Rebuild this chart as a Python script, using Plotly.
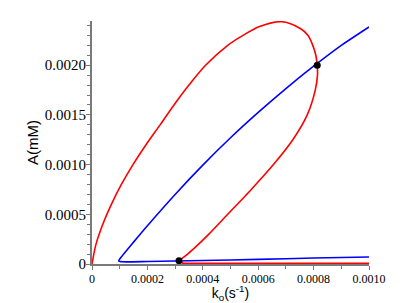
import plotly.graph_objects as go

# Red curve: loop from origin down to the lower marked point
red_x = [0, 0.0000145, 0.000039, 0.000070, 0.000106, 0.000148, 0.000195, 0.000246,
         0.000296, 0.000350, 0.000410, 0.000490, 0.000545, 0.000605, 0.000685,
         0.000752, 0.00078, 0.000797, 0.000808, 0.000813, 0.000814, 0.000806, 0.000777,
         0.000725, 0.000655, 0.000575, 0.00049, 0.000422, 0.000385, 0.000345, 0.000314]
red_y = [0, 0.0002, 0.0004, 0.0006, 0.0008, 0.0010, 0.0012, 0.0014,
         0.0016, 0.0018, 0.0020, 0.0022, 0.0023, 0.00239, 0.002438,
         0.00237, 0.0023, 0.0022, 0.0021, 0.002, 0.0019, 0.00175, 0.0015,
         0.00125, 0.0010, 0.00075, 0.0005, 0.0003, 0.0002, 0.0001, 0.000033]
# Red lower branch along the bottom
red_low_x = [0.000314, 0.00033, 0.00065, 0.001]
red_low_y = [0.000033, 0.000005, 0.000005, 0.000005]

# Blue curve: lower branch (right to left), turning point, upper branch
blue_x = [0.001, 0.0008, 0.0006, 0.0004, 0.0002, 0.00011, 0.0000965, 0.0001, 0.00015, 0.0002,
          0.0003, 0.0004, 0.0005, 0.0006, 0.0007, 0.0008, 0.0009, 0.001]
blue_y = [0.00007, 0.00006, 0.000047, 0.000035, 0.000025, 0.000022, 0.000032, 0.00005, 0.00022, 0.000385,
          0.0007, 0.000995, 0.00127, 0.001525, 0.001765, 0.00199, 0.0022, 0.002385]

# Marked points
pt_x = [0.000813, 0.000314]
pt_y = [0.002, 0.000033]

x_ticks = [0, 0.0002, 0.0004, 0.0006, 0.0008, 0.0010]
x_labels = ["0", "0.0002", "0.0004", "0.0006", "0.0008", "0.0010"]
y_ticks = [0, 0.0005, 0.0010, 0.0015, 0.0020]
y_labels = ["0", "0.0005", "0.0010", "0.0015", "0.0020"]

fig = go.Figure()
fig.add_trace(go.Scatter(x=red_x, y=red_y, mode="lines",
                         line=dict(color="#ff0000", width=1.6, shape="spline", smoothing=0.9),
                         showlegend=False, hoverinfo="skip"))
fig.add_trace(go.Scatter(x=red_low_x, y=red_low_y, mode="lines",
                         line=dict(color="#ff0000", width=1.8),
                         showlegend=False, hoverinfo="skip"))
fig.add_trace(go.Scatter(x=blue_x, y=blue_y, mode="lines",
                         line=dict(color="#0000ff", width=1.6, shape="spline", smoothing=0.5),
                         showlegend=False, hoverinfo="skip"))
fig.add_trace(go.Scatter(x=pt_x, y=pt_y, mode="markers",
                         marker=dict(color="black", size=7),
                         showlegend=False, hoverinfo="skip"))

axis_grey = "#7a7a7a"
fig.update_layout(
    width=409, height=295,
    margin=dict(l=84, r=48, t=13, b=39),
    paper_bgcolor="white", plot_bgcolor="white",
    xaxis=dict(range=[0, 0.001], tickvals=x_ticks, ticktext=x_labels, automargin=False,
               showgrid=False, zeroline=False, showline=True,
               linecolor=axis_grey, linewidth=1.5,
               ticks="outside", ticklen=4, tickcolor=axis_grey, ticklabelstandoff=-1,
               tickfont=dict(family="Liberation Serif", size=12, color="black"),
               minor=dict(dtick=0.0001, ticks="outside", ticklen=3, tickcolor=axis_grey),
               title=dict(text="k<sub>o</sub>(s<sup>-1</sup>)",
                          font=dict(family="Liberation Sans", size=14, color="black"),
                          standoff=5)),
    yaxis=dict(range=[0, 0.002445], tickvals=y_ticks, ticktext=y_labels, automargin=False,
               showgrid=False, zeroline=False, showline=True,
               linecolor=axis_grey, linewidth=2,
               ticks="outside", ticklen=4, tickcolor=axis_grey, ticklabelstandoff=-3,
               tickfont=dict(family="Liberation Serif", size=15, color="black"),
               minor=dict(dtick=0.0001, ticks="outside", ticklen=3, tickcolor=axis_grey),
               title=dict(text="A(mM)",
                          font=dict(family="Liberation Sans", size=15, color="black"),
                          standoff=3)),
)
fig.write_html("out.html")
